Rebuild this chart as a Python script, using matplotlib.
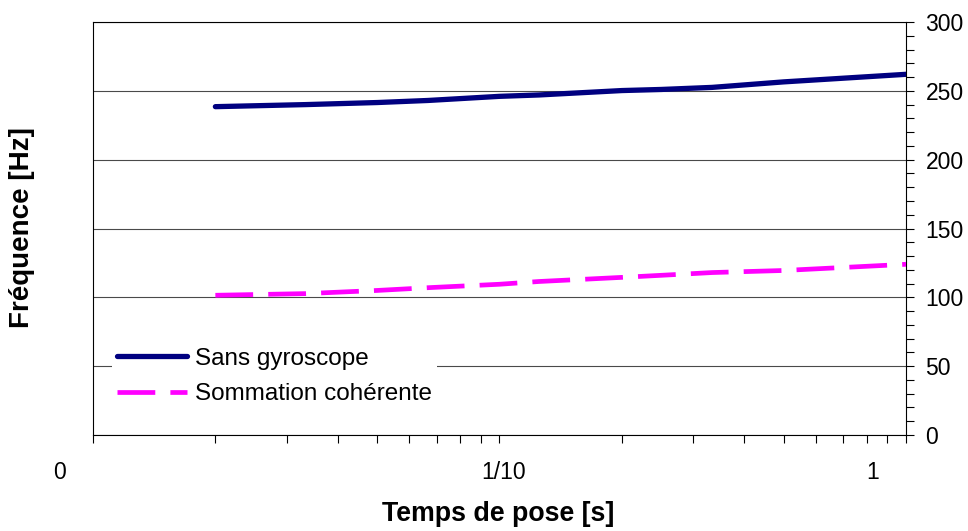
import matplotlib
matplotlib.use("Agg")
import matplotlib.pyplot as plt
import matplotlib.transforms as mtrans
from matplotlib.ticker import FixedLocator, NullFormatter, MultipleLocator, LogLocator

plt.rcParams['font.family'] = ['Liberation Sans', 'DejaVu Sans']

# Data
exposure_times = [1/50, 1/30, 1/20, 1/15, 1/10, 1/8, 1/5, 1/4, 1/3, 1/2, 1]
sans_gyroscope = [238.5, 240.0, 241.5, 243.0, 246.0, 247.0, 250.2, 251.0, 252.5, 256.5, 262.0]
sommation_coherente = [101.5, 102.7, 105.0, 107.0, 109.5, 111.5, 114.5, 116.0, 118.0, 119.5, 124.0]
series_labels = ["Sans gyroscope", "Sommation cohérente"]
x_tick_values = [0.01, 0.1, 1]
x_tick_labels = ["0", "1/10", "1"]
y_ticks = [0, 50, 100, 150, 200, 250, 300]
x_title = "Temps de pose [s]"
y_title = "Fréquence [Hz]"

W, H = 968, 531
fig = plt.figure(figsize=(W / 100, H / 100), dpi=100)
ax = fig.add_axes([93 / W, 1 - 435 / H, (906 - 93) / W, (435 - 22) / H])

ax.plot(exposure_times, sans_gyroscope, color='#000080', lw=3.8,
        solid_capstyle='round', label=series_labels[0], zorder=3)
ax.plot(exposure_times, sommation_coherente, color='#FF00FF', lw=3.4,
        dashes=(8.0, 3.2), dash_capstyle='butt', label=series_labels[1], zorder=3)

ax.set_xscale('log')
ax.set_xlim(0.01, 1)
ax.set_ylim(0, 300)

ax.xaxis.set_major_locator(FixedLocator(x_tick_values))
ax.set_xticklabels(x_tick_labels)
ax.xaxis.set_minor_locator(LogLocator(base=10, subs=range(2, 10)))
ax.xaxis.set_minor_formatter(NullFormatter())
ax.tick_params(axis='x', which='both', direction='out', length=6, width=0.8,
               color='black', labelsize=16.5, pad=13)

ax.yaxis.tick_right()
ax.set_yticks(y_ticks)
ax.yaxis.set_minor_locator(MultipleLocator(10))
ax.tick_params(axis='y', which='both', direction='out', length=6, width=0.8,
               color='black', labelsize=16.5, pad=8)

ax.grid(axis='y', which='major', color='#4a4a4a', lw=0.8)
ax.set_axisbelow(True)
for s in ax.spines.values():
    s.set_color('black')
    s.set_linewidth(0.8)

# shift x tick labels like the original
offsets_px = [-33, 4, -33]
for lab, dx in zip(ax.get_xticklabels(), offsets_px):
    lab.set_transform(lab.get_transform() +
                      mtrans.ScaledTranslation(dx / 100, 0, fig.dpi_scale_trans))

fig.text(498 / W, 1 - 514 / H, x_title, fontsize=19.3, fontweight='bold',
         ha='center', va='center')
fig.text(22 / W, 1 - 228 / H, y_title, fontsize=20, fontweight='bold',
         ha='center', va='center', rotation=90)

leg = ax.legend(loc='upper left', bbox_to_anchor=(112 / W, 1 - 343 / H),
                bbox_transform=fig.transFigure, frameon=True, fancybox=False,
                edgecolor='none', facecolor='white', framealpha=1,
                fontsize=17.5, handlelength=2.9, handletextpad=0.3,
                labelspacing=0.55, borderpad=0.2, borderaxespad=0)

fig.savefig('out.png', dpi=100)
